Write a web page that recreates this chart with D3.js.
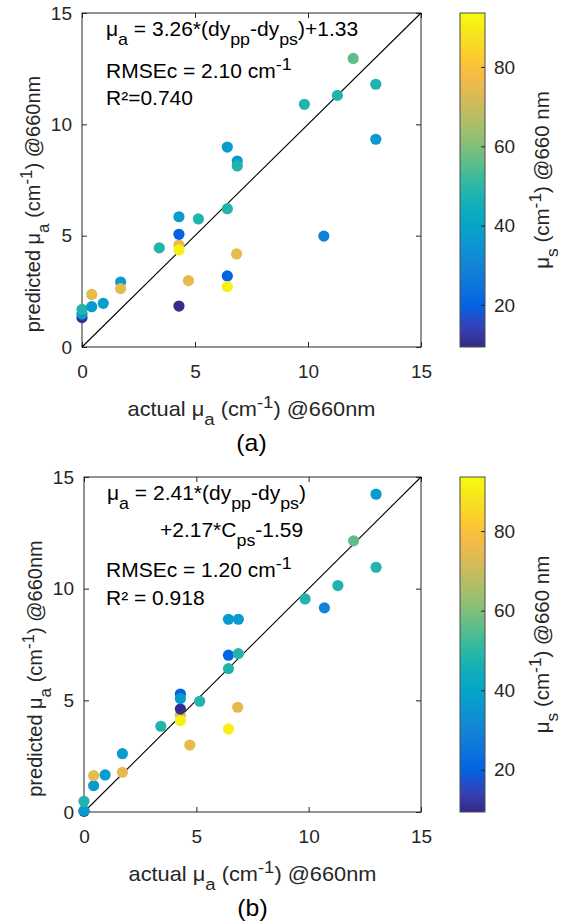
<!DOCTYPE html>
<html><head><meta charset="utf-8">
<script src="https://cdn.jsdelivr.net/npm/d3@7/dist/d3.min.js"></script>
<style>body{margin:0;background:#fff} text{white-space:pre}</style>
</head><body>
<svg id="c" width="561" height="922" xmlns="http://www.w3.org/2000/svg"></svg>
<script>
// ---------------- data ----------------
const actualMuA  = [0, 0, 0, 0.43, 0.43, 0.94, 1.71, 1.71, 3.42, 4.29, 4.29, 4.29, 4.29, 4.29, 4.71, 5.15, 6.43, 6.43, 6.43, 6.43, 6.87, 6.87, 6.84, 9.84, 10.7, 11.3, 12.0, 13.0, 13.0];
const predictedA = [1.32, 1.48, 1.69, 1.81, 2.36, 1.96, 2.92, 2.62, 4.45, 4.58, 1.84, 5.06, 5.85, 4.36, 2.98, 5.75, 8.98, 6.21, 3.19, 2.71, 8.35, 8.13, 4.18, 10.9, 4.98, 11.3, 12.96, 11.8, 9.33];
const predictedB = [0.03, 0.06, 0.48, 1.18, 1.63, 1.66, 2.61, 1.78, 3.84, 4.35, 4.61, 5.28, 5.08, 4.09, 3.00, 4.96, 8.63, 6.42, 7.02, 3.72, 8.63, 7.09, 4.69, 9.54, 9.14, 10.14, 12.14, 10.96, 14.23];
const muS        = [10, 37, 48, 37, 75, 37, 37, 75, 48, 75, 10, 20, 37, 91, 75, 48, 37, 48, 20, 91, 37, 48, 75, 48, 29, 48, 56, 48, 37];
const axisTicks  = [0, 5, 10, 15];
const cbTicks    = [20, 40, 60, 80];
const cbRange    = [9.4, 93.6];
const diagLine   = [0, 15];
const annotA = ["μ_{a} = 3.26*(dy_{pp}-dy_{ps})+1.33", "RMSEc = 2.10 cm^{-1}", "R²=0.740"];
const annotB = ["μ_{a} = 2.41*(dy_{pp}-dy_{ps})", "+2.17*C_{ps}-1.59", "RMSEc = 1.20 cm^{-1}", "R² = 0.918"];
const xTitle = "actual μ_{a} (cm^{-1}) @660nm";
const yTitle = "predicted μ_{a} (cm^{-1}) @660nm";
const cbTitle = "μ_{s} (cm^{-1}) @660 nm";
const panelLabels = ["(a)", "(b)"];
// parula colormap anchors
const parula = ["#352a87","#3243ba","#0363e1","#0d75dc","#1485d4","#0998d1","#06a7c6","#15b1b4","#38b99e","#65be86","#92bf73","#b7bd64","#d9ba56","#f8ba44","#fcce2e","#f5e41d","#f9fb0e"];

// ---------------- setup ----------------
const TXT = "#262626";
const FONT = "'Liberation Sans', Arial, Helvetica, sans-serif";
const svg = d3.select("#c");
const tNorm = d3.scaleLinear().domain(cbRange).range([0, 1]).clamp(true);
const cmap = d3.scaleLinear().domain(parula.map((_, i) => i / (parula.length - 1))).range(parula).interpolate(d3.interpolateRgb);
const color = v => cmap(tNorm(v));

const defs = svg.append("defs");
const grad = defs.append("linearGradient").attr("id", "parulaGrad")
  .attr("x1", 0).attr("y1", 1).attr("x2", 0).attr("y2", 0);
d3.range(0, 65).forEach(i => {
  grad.append("stop").attr("offset", i / 64).attr("stop-color", cmap(i / 64));
});

function rich(sel, str, fs) {
  const re = /([_^])\{([^}]*)\}/g;
  let last = 0, m, shift = 0;
  const parts = [];
  while ((m = re.exec(str))) {
    if (m.index > last) parts.push({ t: str.slice(last, m.index), k: "" });
    parts.push({ t: m[2], k: m[1] });
    last = re.lastIndex;
  }
  if (last < str.length) parts.push({ t: str.slice(last), k: "" });
  parts.forEach(p => {
    const target = p.k === "_" ? fs * 0.45 : p.k === "^" ? -fs * 0.4 : 0;
    const ts = sel.append("tspan").text(p.t).attr("dy", target - shift);
    if (p.k) ts.attr("font-size", fs * 0.85);
    shift = target;
  });
}

function panel(cfg) {
  const g = svg.append("g");
  const x = d3.scaleLinear().domain([0, 15]).range([cfg.left, cfg.right]);
  const y = d3.scaleLinear().domain([0, 15]).range([cfg.bottom, cfg.top]);
  const fs = 19;

  const styleAxis = sel => {
    sel.select(".domain").remove();
    sel.selectAll("line").attr("stroke", TXT).attr("stroke-width", 1);
    sel.selectAll("text").attr("fill", TXT).attr("font-size", fs).attr("font-family", FONT);
  };
  g.append("g").attr("transform", `translate(0,${cfg.bottom})`)
    .call(d3.axisBottom(x).tickValues(axisTicks).tickSize(-5).tickPadding(18).tickFormat(d3.format("d"))).call(styleAxis);
  g.append("g").attr("transform", `translate(0,${cfg.top})`)
    .call(d3.axisTop(x).tickValues(axisTicks).tickSize(-5).tickFormat("")).call(styleAxis);
  g.append("g").attr("transform", `translate(${cfg.left},0)`)
    .call(d3.axisLeft(y).tickValues(axisTicks).tickSize(-5).tickPadding(10).tickFormat(d3.format("d"))).call(styleAxis);
  g.append("g").attr("transform", `translate(${cfg.right},0)`)
    .call(d3.axisRight(y).tickValues(axisTicks).tickSize(-5).tickFormat("")).call(styleAxis);

  g.append("rect").attr("x", cfg.left).attr("y", cfg.top)
    .attr("width", cfg.right - cfg.left).attr("height", cfg.bottom - cfg.top)
    .attr("fill", "none").attr("stroke", TXT).attr("stroke-width", 1);

  // identity line
  g.append("path").datum(diagLine)
    .attr("d", d3.line().x(d => x(d)).y(d => y(d)))
    .attr("stroke", "#000").attr("stroke-width", 1.1).attr("fill", "none");

  // points
  g.append("g").selectAll("circle").data(actualMuA.map((a, i) => ({ a, p: cfg.pred[i], s: muS[i] })))
    .join("circle")
    .attr("cx", d => x(d.a)).attr("cy", d => y(d.p)).attr("r", 5.6)
    .attr("fill", d => color(d.s));

  // annotations
  const afs = 20;
  cfg.annot.forEach((s, i) => {
    const t = g.append("text")
      .attr("transform", `translate(${cfg.left + cfg.annX[i]},${cfg.top + cfg.annY[i]}) scale(1.05,1)`)
      .attr("font-size", afs).attr("font-family", FONT).attr("fill", "#000");
    rich(t, s, afs);
  });

  // x title
  const tfs = 20;
  const cx = (cfg.left + cfg.right) / 2;
  const xt = g.append("text")
    .attr("transform", `translate(${cx},${cfg.bottom + 69}) scale(1.09,1)`)
    .attr("text-anchor", "middle")
    .attr("font-size", tfs).attr("font-family", FONT).attr("fill", TXT);
  rich(xt, xTitle, tfs);
  // y title
  const yt = g.append("text").attr("transform", `translate(${cfg.left - 42},${(cfg.top + cfg.bottom) / 2 + 24}) rotate(-90)`)
    .attr("text-anchor", "middle").attr("font-size", tfs).attr("font-family", FONT).attr("fill", TXT);
  rich(yt, yTitle, tfs);
  // panel label
  g.append("text").attr("transform", `translate(${cx},${cfg.bottom + 104}) scale(1.08,1)`)
    .attr("text-anchor", "middle")
    .attr("font-size", 23).attr("font-family", FONT).attr("fill", "#000").text(cfg.label);

  // colorbar
  const cb = d3.scaleLinear().domain(cbRange).range([cfg.bottom, cfg.top]);
  g.append("rect").attr("x", cfg.cbX).attr("y", cfg.top).attr("width", cfg.cbW).attr("height", cfg.bottom - cfg.top)
    .attr("fill", "url(#parulaGrad)").attr("stroke", "#4d4d4d").attr("stroke-width", 1);
  g.append("g").attr("transform", `translate(${cfg.cbX + cfg.cbW},0)`)
    .call(d3.axisRight(cb).tickValues(cbTicks).tickSize(-4).tickPadding(9)).call(styleAxis);
  const cfs = 20.5;
  const ct = g.append("text").attr("transform", `translate(${cfg.cbX + cfg.cbW + 64},${(cfg.top + cfg.bottom) / 2}) rotate(-90)`)
    .attr("text-anchor", "middle").attr("font-size", cfs).attr("font-family", FONT).attr("fill", TXT);
  rich(ct, cbTitle, cfs);
}

panel({ left: 82, right: 421, top: 13, bottom: 347, pred: predictedA, annot: annotA,
  annX: [24, 24, 24], annY: [23, 65, 92], label: panelLabels[0], cbX: 460, cbW: 25 });
panel({ left: 84, right: 421, top: 477, bottom: 812, pred: predictedB, annot: annotB,
  annX: [23, 76, 22, 22], annY: [23, 60, 100, 128], label: panelLabels[1], cbX: 460, cbW: 25 });
</script>
</body></html>
